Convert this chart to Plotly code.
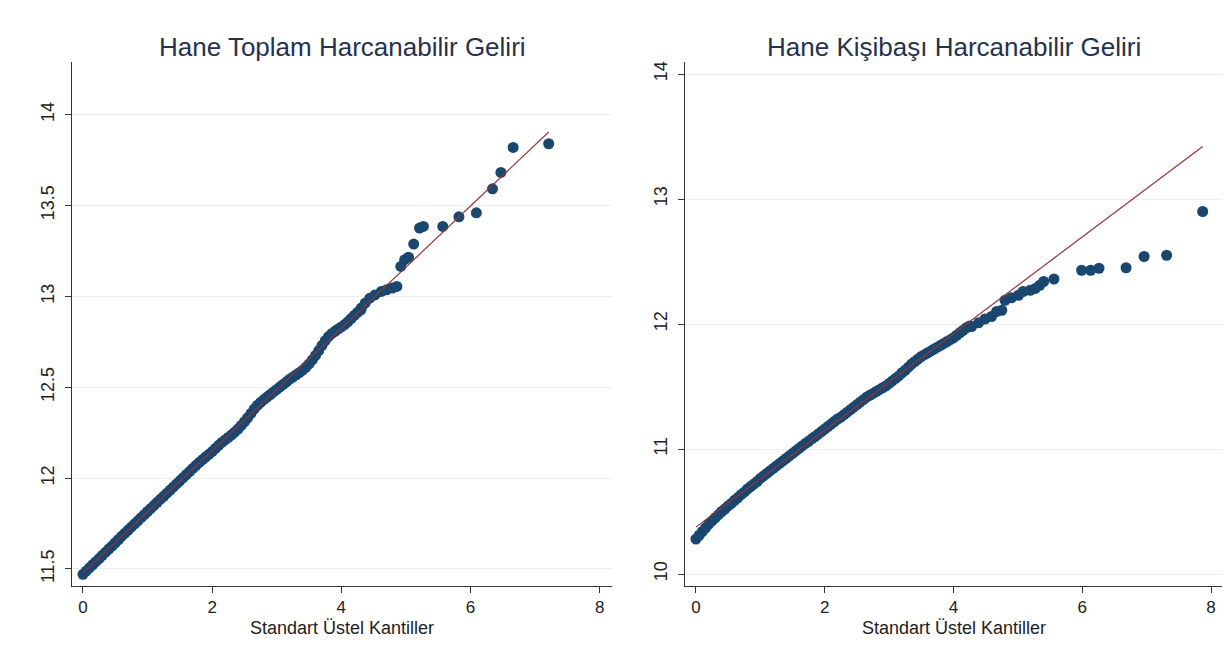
import plotly.graph_objects as go

# --- Hane Toplam Harcanabilir Geliri (log) vs standard exponential quantiles ---
toplam_x = [0.00, 0.05, 0.10, 0.15, 0.20, 0.25, 0.30, 0.35, 0.40, 0.45, 0.50, 0.55,
            0.60, 0.65, 0.70, 0.75, 0.80, 0.85, 0.90, 0.95, 1.00, 1.05, 1.10, 1.15,
            1.20, 1.25, 1.30, 1.35, 1.40, 1.45, 1.50, 1.55, 1.60, 1.65, 1.70, 1.75,
            1.80, 1.85, 1.90, 1.95, 2.00, 2.05, 2.10, 2.15, 2.20, 2.25, 2.30, 2.35,
            2.40, 2.45, 2.50, 2.55, 2.60, 2.65, 2.70, 2.75, 2.80, 2.85, 2.90, 2.95,
            3.00, 3.05, 3.10, 3.15, 3.20, 3.25, 3.30, 3.35, 3.40, 3.45, 3.50, 3.55,
            3.60, 3.65, 3.70, 3.75, 3.80, 3.85, 3.90, 3.95, 4.00, 4.05, 4.10, 4.15,
            4.20, 4.25, 4.30,
            4.31, 4.37, 4.44, 4.52, 4.62, 4.70, 4.79, 4.86, 4.92, 4.98, 5.04, 5.12,
            5.21, 5.27, 5.57, 5.82, 6.09, 6.34, 6.47, 6.66, 7.21]
toplam_y = [11.470, 11.488, 11.506, 11.523, 11.540, 11.557, 11.575, 11.592, 11.609,
            11.626, 11.644, 11.662, 11.680, 11.697, 11.714, 11.731, 11.748, 11.765,
            11.782, 11.799, 11.816, 11.833, 11.850, 11.867, 11.884, 11.900, 11.917,
            11.934, 11.951, 11.968, 11.985, 12.002, 12.019, 12.036, 12.053, 12.070,
            12.086, 12.101, 12.116, 12.131, 12.146, 12.163, 12.180, 12.196, 12.210,
            12.224, 12.238, 12.253, 12.270, 12.290, 12.310, 12.332, 12.356, 12.380,
            12.400, 12.417, 12.432, 12.446, 12.460, 12.474, 12.488, 12.502, 12.516,
            12.530, 12.544, 12.556, 12.568, 12.580, 12.594, 12.610, 12.628, 12.650,
            12.675, 12.702, 12.730, 12.756, 12.778, 12.795, 12.808, 12.820, 12.832,
            12.845, 12.860, 12.878, 12.895, 12.912, 12.925,
            12.936, 12.963, 12.990, 13.008, 13.027, 13.036, 13.046, 13.055, 13.165,
            13.202, 13.216, 13.288, 13.376, 13.385, 13.385, 13.438, 13.460, 13.592,
            13.682, 13.820, 13.840]
toplam_fit_x = [0.0, 7.21]
toplam_fit_y = [11.478, 13.905]

# --- Hane Kişibaşı Harcanabilir Geliri (log) vs standard exponential quantiles ---
kisibasi_x = [0.00, 0.05, 0.10, 0.15, 0.20, 0.25, 0.30, 0.35, 0.40, 0.45, 0.50, 0.55,
              0.60, 0.65, 0.70, 0.75, 0.80, 0.85, 0.90, 0.95, 1.00, 1.05, 1.10, 1.15,
              1.20, 1.25, 1.30, 1.35, 1.40, 1.45, 1.50, 1.55, 1.60, 1.65, 1.70, 1.75,
              1.80, 1.85, 1.90, 1.95, 2.00, 2.05, 2.10, 2.15, 2.20, 2.25, 2.30, 2.35,
              2.40, 2.45, 2.50, 2.55, 2.60, 2.65, 2.70, 2.75, 2.80, 2.85, 2.90, 2.95,
              3.00, 3.05, 3.10, 3.15, 3.20, 3.25, 3.30, 3.35, 3.40, 3.45, 3.50, 3.55,
              3.60, 3.65, 3.70, 3.75, 3.80, 3.85, 3.90, 3.95, 4.00, 4.05, 4.10, 4.15,
              4.20, 4.25,
              4.28, 4.39, 4.49, 4.59, 4.67, 4.75, 4.80, 4.90, 5.01, 5.08, 5.19, 5.27,
              5.34, 5.40, 5.56, 5.99, 6.13, 6.26, 6.68, 6.96, 7.31, 7.87]
kisibasi_y = [10.280, 10.310, 10.340, 10.370, 10.400, 10.425, 10.450, 10.475, 10.500,
              10.520, 10.545, 10.565, 10.590, 10.610, 10.635, 10.655, 10.680, 10.700,
              10.720, 10.740, 10.765, 10.785, 10.805, 10.825, 10.845, 10.865, 10.885,
              10.905, 10.925, 10.945, 10.965, 10.985, 11.005, 11.025, 11.045, 11.062,
              11.082, 11.100, 11.120, 11.140, 11.160, 11.180, 11.200, 11.220, 11.240,
              11.255, 11.275, 11.295, 11.315, 11.335, 11.355, 11.375, 11.395, 11.415,
              11.430, 11.445, 11.460, 11.475, 11.490, 11.505, 11.525, 11.545, 11.565,
              11.585, 11.610, 11.630, 11.655, 11.680, 11.700, 11.720, 11.740, 11.755,
              11.770, 11.785, 11.800, 11.815, 11.830, 11.845, 11.860, 11.875, 11.890,
              11.910, 11.930, 11.950, 11.970, 11.985,
              11.98, 12.01, 12.04, 12.06, 12.10, 12.11, 12.19, 12.21, 12.23, 12.26,
              12.27, 12.285, 12.31, 12.34, 12.36, 12.43, 12.43, 12.446, 12.45, 12.54,
              12.55, 12.90]
kisibasi_fit_x = [0.0, 7.87]
kisibasi_fit_y = [10.375, 13.42]

x_ticks = [0, 2, 4, 6, 8]
toplam_ticks = [11.5, 12, 12.5, 13, 13.5, 14]
kisibasi_ticks = [10, 11, 12, 13, 14]

titles = ["Hane Toplam Harcanabilir Geliri", "Hane Kişibaşı Harcanabilir Geliri"]
x_title = "Standart Üstel Kantiller"

W, H = 1231, 670
MARKER = "#1a476f"
FIT = "#90353b"
GRID = "#e9eef0"
TITLE_C = "#24324f"
FONT = "Liberation Sans, Arial, sans-serif"

fig = go.Figure()

for i, (xs, ys, fx, fy) in enumerate([
        (toplam_x, toplam_y, toplam_fit_x, toplam_fit_y),
        (kisibasi_x, kisibasi_y, kisibasi_fit_x, kisibasi_fit_y)]):
    xa = "x" if i == 0 else "x2"
    ya = "y" if i == 0 else "y2"
    fig.add_trace(go.Scatter(x=xs, y=ys, mode="markers", xaxis=xa, yaxis=ya,
                             marker=dict(size=11, color=MARKER, line=dict(width=0)),
                             showlegend=False, hoverinfo="x+y"))
    fig.add_trace(go.Scatter(x=fx, y=fy, mode="lines", xaxis=xa, yaxis=ya,
                             line=dict(color=FIT, width=1.2),
                             showlegend=False, hoverinfo="skip"))

ydom = [(H - 586) / H, (H - 62) / H]
common_x = dict(tickvals=x_ticks, ticks="outside", ticklen=6, tickcolor="#333",
                showline=True, linecolor="#333", linewidth=1, showgrid=False,
                zeroline=False, tickfont=dict(size=17, color="#222", family=FONT))
common_y = dict(ticks="outside", ticklen=6, tickcolor="#333", tickangle=-90,
                showline=True, linecolor="#333", linewidth=1, showgrid=True,
                gridcolor=GRID, gridwidth=1, zeroline=False, ticklabelstandoff=4,
                tickfont=dict(size=18, color="#222", family=FONT))

fig.update_layout(
    width=W, height=H,
    margin=dict(l=0, r=0, t=0, b=0),
    paper_bgcolor="white", plot_bgcolor="white",
    font=dict(family=FONT),
    xaxis=dict(domain=[72 / W, 612 / W], range=[-0.17, 8.19], anchor="y", **common_x),
    yaxis=dict(domain=ydom, range=[11.406, 14.29], tickvals=toplam_ticks, anchor="x",
               **common_y),
    xaxis2=dict(domain=[685 / W, 1222 / W], range=[-0.17, 8.17], anchor="y2", **common_x),
    yaxis2=dict(domain=ydom, range=[9.904, 14.096], tickvals=kisibasi_ticks, anchor="x2",
                **common_y),
)

centers = [(72 + 612) / 2 / W, (685 + 1222) / 2 / W]
for c, t in zip(centers, titles):
    fig.add_annotation(x=c, y=(H - 47) / H, xref="paper", yref="paper", text=t,
                       showarrow=False, xanchor="center", yanchor="middle",
                       font=dict(size=26, color=TITLE_C, family=FONT))
    fig.add_annotation(x=c, y=(H - 628) / H, xref="paper", yref="paper", text=x_title,
                       showarrow=False, xanchor="center", yanchor="middle",
                       font=dict(size=18, color="#222", family=FONT))

fig.write_html("out.html")
